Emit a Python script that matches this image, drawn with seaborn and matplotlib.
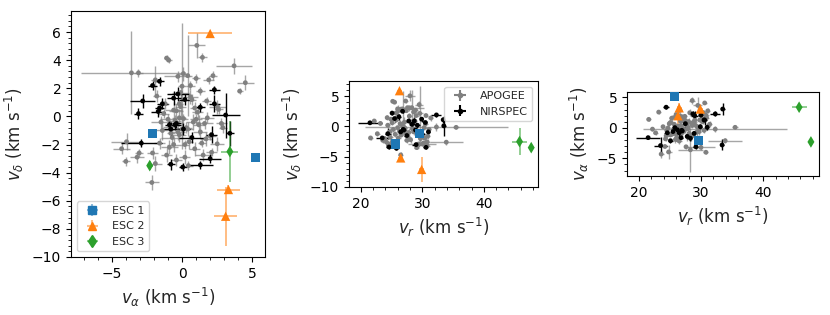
import numpy as np
import pandas as pd
import matplotlib.pyplot as plt
from matplotlib.ticker import AutoMinorLocator
import seaborn as sns

sns.set_style("ticks")
plt.rcParams['font.family'] = ['DejaVu Sans']
plt.rcParams['mathtext.fontset'] = 'dejavusans'
plt.rcParams['axes.edgecolor'] = 'black'
plt.rcParams['xtick.color'] = 'black'
plt.rcParams['ytick.color'] = 'black'
plt.rcParams['xtick.major.size'] = 3.5
plt.rcParams['ytick.major.size'] = 3.5
plt.rcParams['xtick.minor.size'] = 2
plt.rcParams['ytick.minor.size'] = 2
plt.rcParams['xtick.minor.width'] = 0.6
plt.rcParams['ytick.minor.width'] = 0.6

# APOGEE stars: radial velocity and proper-motion velocities (km/s) with errors
apo_vr = [28.3, 29.6, 26.8, 28.0, 27.3, 25.2, 25.5, 29.5, 28.6, 30.6,
          27.6, 26.1, 24.3, 26.5, 27.9, 28.9, 27.4, 26.0, 29.0, 25.8,
          27.1, 26.4, 28.2, 27.0, 24.8, 23.6, 24.2, 25.9, 26.5, 25.0,
          24.5, 29.1, 30.2, 30.8, 30.4, 31.1, 27.8, 26.9, 35.5, 32.3,
          33.9, 30.0, 30.8, 21.6, 27.2, 26.3, 28.5, 25.6, 27.7, 29.3,
          26.7, 24.9, 28.8, 27.5, 23.9, 29.8, 26.1, 30.5, 25.3, 28.1,
          22.7, 31.4, 26.6, 29.4, 27.9, 24.4, 30.3, 25.7, 23.2, 27.4,
          28.6, 26.0, 25.1, 29.7, 27.0, 28.4, 24.7, 26.6, 30.9, 22.2]
apo_va = [-3.6, 0.0, 0.4, 1.05, 1.45, -1.1, -0.95, 3.7, 4.5, 4.1,
          -3.1, -1.9, -1.8, -0.3, 0.1, 1.0, 1.9, 2.2, 1.3, 1.75,
          -0.1, -0.6, 2.5, 1.8, -3.95, -4.3, -3.05, -1.9, -2.15, -1.1,
          -0.4, 0.45, 1.5, 2.1, 2.5, 2.8, -1.4, -0.85, 0.1, -0.2,
          -2.1, -3.2, -4.0, 1.4, -0.5, 0.3, 0.8, -0.2, 0.5, -0.7,
          1.1, 0.7, -1.2, 0.9, 0.2, 1.3, -1.6, -0.4, 1.6, -0.9,
          -0.8, 0.6, 2.0, 0.2, -0.1, -1.3, 1.0, 0.6, 2.6, -0.3,
          0.4, -1.0, 0.9, -0.6, 1.2, -1.5, 0.0, 2.9, 1.7, -0.2]
apo_vd = [3.1, 2.15, 2.9, 5.05, 4.2, 4.15, 4.0, 3.6, 2.4, 1.8,
          3.1, 2.6, 1.45, 2.85, 3.05, 2.7, 2.6, 2.9, 1.8, 1.1,
          0.7, 0.45, 0.7, -0.1, -1.8, -2.3, -2.6, -3.35, -4.7, -2.75,
          -3.1, -3.5, -2.75, -2.55, -1.95, -0.5, -1.0, -0.75, -0.15, -0.1,
          -2.6, -2.9, -3.2, -1.9, -0.3, -0.8, -0.4, -1.3, -1.8, -1.5,
          0.3, 1.2, 0.9, -2.3, -2.0, -1.1, -1.9, 0.4, -0.5, -2.2,
          -1.2, 1.4, -1.4, -2.9, 1.7, 0.2, -0.2, 2.2, 0.5, -1.1,
          -0.9, -0.2, 0.6, -2.0, -0.6, -0.4, -0.9, -0.8, -1.6, 0.9]
apo_evr = [2.0, 0.5, 0.6, 0.8, 0.4, 0.3, 0.3, 0.7, 0.5, 0.3,
           0.4, 0.6, 0.4, 0.4, 0.5, 0.4, 0.3, 0.4, 0.4, 0.4,
           0.5, 0.4, 0.3, 0.4, 0.5, 0.4, 0.5, 0.4, 0.4, 0.4,
           0.3, 0.4, 0.5, 0.5, 0.4, 0.4, 0.4, 0.3, 0.5, 11.6,
           2.7, 2.3, 0.4, 0.4, 0.3, 0.4, 0.3, 0.4, 0.3, 0.4,
           0.3, 0.4, 0.3, 0.4, 0.3, 0.4, 0.4, 0.4, 0.4, 0.3,
           0.4, 0.4, 0.3, 0.4, 0.4, 0.4, 0.4, 0.3, 0.3, 0.3,
           0.4, 0.3, 0.4, 0.3, 0.5, 0.3, 0.4, 0.3, 0.4, 0.3]
apo_eva = [3.6, 0.3, 0.15, 0.6, 0.3, 0.2, 0.2, 1.3, 0.6, 0.2,
           0.3, 0.3, 0.3, 1.0, 0.4, 0.3, 0.4, 0.3, 0.3, 0.3,
           0.4, 0.6, 0.6, 0.5, 1.1, 0.6, 0.3, 0.5, 0.5, 0.4,
           0.4, 0.3, 0.6, 0.4, 0.5, 0.4, 0.8, 0.5, 0.3, 0.5,
           0.4, 0.5, 0.3, 0.3, 0.4, 0.4, 0.5, 0.5, 0.3, 0.8,
           0.4, 0.3, 0.3, 0.4, 0.3, 0.5, 0.4, 0.5, 0.6, 0.6,
           0.3, 0.5, 0.4, 0.4, 0.6, 0.4, 0.4, 0.3, 0.3, 0.5,
           0.4, 0.6, 0.3, 0.5, 0.4, 0.7, 0.5, 0.3, 0.4, 0.3]
apo_evd = [2.95, 4.5, 2.9, 0.9, 0.3, 0.2, 0.2, 0.55, 0.55, 0.2,
           0.3, 1.0, 0.4, 0.4, 0.5, 0.3, 0.3, 0.3, 0.3, 0.3,
           0.9, 0.6, 0.5, 0.4, 0.6, 0.4, 0.3, 0.5, 0.5, 0.5,
           0.4, 0.3, 0.4, 0.3, 0.5, 0.4, 0.7, 0.5, 0.3, 0.6,
           0.4, 0.4, 0.3, 0.3, 0.4, 0.4, 0.6, 0.5, 0.5, 0.4,
           0.5, 0.4, 0.4, 0.5, 0.3, 0.4, 0.4, 0.5, 0.4, 0.5,
           0.3, 0.5, 0.3, 0.5, 0.5, 0.3, 0.4, 0.3, 0.3, 0.6,
           0.5, 0.4, 0.4, 0.5, 0.7, 0.4, 0.6, 0.4, 0.5, 0.3]

# NIRSPEC stars
nir_vr = [21.5, 23.5, 25.1, 24.4, 33.5, 32.3, 30.5, 33.4, 24.6, 25.8,
          30.6, 29.0, 30.0, 27.5, 26.5, 27.0, 28.7, 26.8, 29.2, 27.8,
          28.3, 26.2, 29.9, 25.5, 31.0, 26.9, 28.9]
nir_va = [-1.6, -2.9, -2.1, 3.4, 3.1, 2.3, 1.3, -2.8, -0.8, 0.05,
          1.3, 2.0, 2.1, 0.7, -0.8, -0.5, 2.3, -1.6, -3.1, -1.4,
          -1.7, -0.3, 0.2, -0.6, 0.1, -0.4, -0.9]
nir_vd = [0.6, -1.9, 2.2, -1.2, 0.1, 1.9, 0.65, 1.1, -3.4, -3.6,
          -3.45, -3.0, -1.3, -1.5, -0.9, -0.6, 0.9, 2.5, 0.2, 0.9,
          0.35, 1.6, 1.2, 1.3, -0.9, -0.5, -0.6]
nir_evr = [1.9, 1.0, 0.4, 0.5, 0.3, 0.8, 0.3, 0.3, 0.5, 0.4,
           0.4, 0.6, 0.4, 0.4, 0.3, 0.4, 0.3, 0.3, 0.4, 0.3,
           0.3, 0.4, 0.3, 0.3, 0.3, 0.4, 0.4]
nir_eva = [0.3, 1.45, 0.3, 0.3, 1.0, 0.4, 0.3, 0.9, 0.3, 0.3,
           0.9, 0.8, 0.4, 0.9, 0.7, 0.4, 0.4, 0.3, 0.3, 0.4,
           0.5, 0.8, 0.4, 0.5, 0.5, 0.3, 0.3]
nir_evd = [0.2, 0.3, 0.3, 0.9, 1.6, 0.3, 0.3, 0.5, 0.4, 0.3,
           0.3, 0.3, 0.6, 0.4, 0.5, 0.4, 0.6, 0.3, 0.4, 0.4,
           0.4, 0.5, 0.4, 0.5, 0.4, 0.3, 0.3]

# escaping groups
esc_names = ['ESC 1', 'ESC 2', 'ESC 3']
esc_vr = [[29.6, 25.7], [26.3, 26.5, 29.9], [45.8, 47.7]]
esc_va = [[-2.1, 5.2], [2.0, 3.3, 3.1], [3.4, -2.3]]
esc_vd = [[-1.2, -2.9], [5.9, -5.2, -7.1], [-2.5, -3.5]]
esc_evr = [[0.3, 0.2], [0.4, 0.4, 0.4], [1.2, 0.3]]
esc_eva = [[0.3, 0.15], [1.57, 0.8, 0.8], [0.6, 0.2]]
esc_evd = [[0.3, 0.15], [0.2, 0.3, 2.1], [2.2, 0.3]]
esc_colors = ['tab:blue', 'tab:orange', 'tab:green']
esc_markers = ['s', '^', 'd']

apo = pd.DataFrame({'vr': apo_vr, 'va': apo_va, 'vd': apo_vd,
                    'e_vr': apo_evr, 'e_va': apo_eva, 'e_vd': apo_evd})
nir = pd.DataFrame({'vr': nir_vr, 'va': nir_va, 'vd': nir_vd,
                    'e_vr': nir_evr, 'e_va': nir_eva, 'e_vd': nir_evd})
esc = []
for i in range(3):
    esc.append(pd.DataFrame({'vr': esc_vr[i], 'va': esc_va[i], 'vd': esc_vd[i],
                             'e_vr': esc_evr[i], 'e_va': esc_eva[i], 'e_vd': esc_evd[i]}))

fig = plt.figure(figsize=(8.3, 3.15), dpi=100)
ax1 = fig.add_axes([71/830, 58/315, 194/830, 246/315])
ax2 = fig.add_axes([349/830, 128/315, 189/830, 106/315])
ax3 = fig.add_axes([627/830, 139/315, 192/830, 84/315])

unit = r' (km s$^{-1}$)'
panels = [(ax1, 'va', 'vd'), (ax2, 'vr', 'vd'), (ax3, 'vr', 'va')]

for ax, xk, yk in panels:
    ax.errorbar(apo[xk], apo[yk], xerr=apo['e_' + xk], yerr=apo['e_' + yk],
                fmt='none', ecolor='gray', alpha=0.7, elinewidth=1)
    sns.scatterplot(data=apo, x=xk, y=yk, ax=ax, color='gray', s=12,
                    edgecolor='none', legend=False, zorder=3)
    ax.errorbar(nir[xk], nir[yk], xerr=nir['e_' + xk], yerr=nir['e_' + yk],
                fmt='none', ecolor='black', elinewidth=1)
    sns.scatterplot(data=nir, x=xk, y=yk, ax=ax, color='black', s=12,
                    edgecolor='none', legend=False, zorder=3)
    for i in range(3):
        d = esc[i]
        ax.errorbar(d[xk], d[yk], xerr=d['e_' + xk], yerr=d['e_' + yk],
                    fmt='none', ecolor=esc_colors[i], alpha=0.6, elinewidth=1.2)
        sns.scatterplot(data=d, x=xk, y=yk, ax=ax, color=esc_colors[i],
                        marker=esc_markers[i], s=45 if i < 2 else 35,
                        edgecolor='none', legend=False, zorder=4)
    ax.xaxis.set_minor_locator(AutoMinorLocator(5))
    ax.yaxis.set_minor_locator(AutoMinorLocator(5))
    ax.tick_params(labelsize=10)

ax1.set_xlim(-7.9, 5.9)
ax1.set_ylim(-10, 7.5)
ax1.set_xticks([-5, 0, 5])
ax1.set_yticks([-10, -8, -6, -4, -2, 0, 2, 4, 6])
ax2.set_xlim(18.1, 48.8)
ax2.set_ylim(-10, 7.5)
ax2.set_xticks([20, 30, 40])
ax2.set_yticks([-10, -5, 0, 5])
ax3.set_xlim(18.1, 49.0)
ax3.set_ylim(-7.9, 5.9)
ax3.set_xticks([20, 30, 40])
ax3.set_yticks([-5, 0, 5])

ax1.set_xlabel(r'$v_\alpha$' + unit, fontsize=12)
ax1.set_ylabel(r'$v_\delta$' + unit, fontsize=12)
ax2.set_xlabel(r'$v_r$' + unit, fontsize=12)
ax2.set_ylabel(r'$v_\delta$' + unit, fontsize=12)
ax3.set_xlabel(r'$v_r$' + unit, fontsize=12)
ax3.set_ylabel(r'$v_\alpha$' + unit, fontsize=12)

# legend handles
h_esc = []
for i in range(3):
    h = ax1.errorbar([np.nan], [np.nan], xerr=[0.1], yerr=[0.1], fmt=esc_markers[i],
                     color=esc_colors[i], ecolor=esc_colors[i],
                     markersize=6, label=esc_names[i])
    for bar in h[2]:
        bar.set_alpha(0.5)
    h_esc.append(h)
ax1.legend(handles=h_esc, loc='lower left', fontsize=8)

h_apo = ax2.errorbar([np.nan], [np.nan], xerr=[0.1], yerr=[0.1], fmt='.',
                     color='gray', label='APOGEE')
h_nir = ax2.errorbar([np.nan], [np.nan], xerr=[0.1], yerr=[0.1], fmt='.',
                     color='black', label='NIRSPEC')
ax2.legend(handles=[h_apo, h_nir], loc='upper right', fontsize=8)

plt.savefig('out.png', dpi=100)
plt.close()
